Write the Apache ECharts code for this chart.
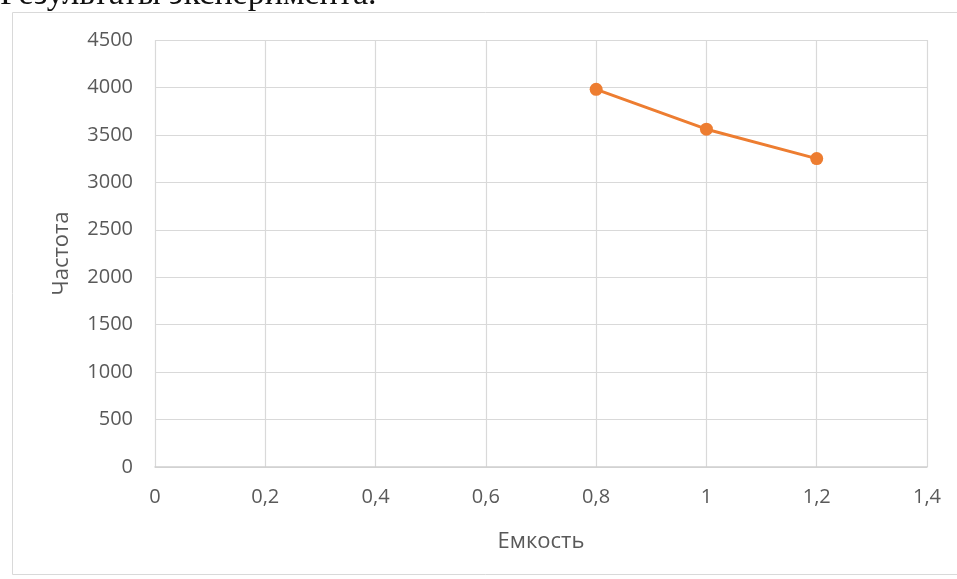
<!DOCTYPE html>
<html><head><meta charset="utf-8">
<script src="https://cdn.jsdelivr.net/npm/echarts@6/dist/echarts.min.js"></script>
<style>html,body{margin:0;padding:0;background:#fff}#c{width:957px;height:579px}</style>
</head><body><div id="c"></div>
<script>
const xValues = [0.8, 1.0, 1.2];
const frequency = [3980, 3560, 3250];
const xTicks = [0, 0.2, 0.4, 0.6, 0.8, 1.0, 1.2, 1.4];
const yTicks = [0, 500, 1000, 1500, 2000, 2500, 3000, 3500, 4000, 4500];
const caption = 'Результаты эксперимента.';
const xName = 'Емкость';
const yName = 'Частота';

const chart = echarts.init(document.getElementById('c'));
const fmt = v => String(Math.round(v*10)/10).replace('.', ',');
chart.setOption({
  animation: false,
  graphic: [
    {type:'rect', shape:{x:12.5,y:12.5,width:950,height:562}, style:{fill:'none', stroke:'#d9d9d9', lineWidth:1}},
    {type:'text', left:0, top:-22, style:{text:caption, font:'34px "Liberation Serif"', fill:'#111'}}
  ],
  grid: {left:155, right:30, top:40, bottom:112},
  xAxis: {
    type:'value', min:xTicks[0], max:xTicks[xTicks.length-1], interval:0.2,
    name:xName, nameLocation:'middle', nameGap:64,
    nameTextStyle:{color:'#595959', fontSize:22, fontFamily:'Open Sans'},
    axisLine:{show:true, lineStyle:{color:'#d0d0d0', width:1.5}},
    axisTick:{show:false},
    axisLabel:{color:'#595959', fontSize:20, fontFamily:'Open Sans', margin:20, formatter:fmt},
    splitLine:{show:true, lineStyle:{color:'#d9d9d9', width:1.2}}
  },
  yAxis: {
    type:'value', min:yTicks[0], max:yTicks[yTicks.length-1], interval:500,
    name:yName, nameLocation:'middle', nameGap:82,
    nameTextStyle:{color:'#595959', fontSize:22, fontFamily:'Open Sans'},
    axisLine:{show:false}, axisTick:{show:false},
    axisLabel:{color:'#595959', fontSize:20, fontFamily:'Open Sans', margin:22, formatter: v => String(v)},
    splitLine:{show:true, lineStyle:{color:'#d9d9d9', width:1.2}}
  },
  series: [{
    type:'line', data: xValues.map((x,i)=>[x, frequency[i]]),
    symbol:'circle', symbolSize:13,
    lineStyle:{color:'#ED7D31', width:3},
    itemStyle:{color:'#ED7D31'}
  }]
});
</script></body></html>
